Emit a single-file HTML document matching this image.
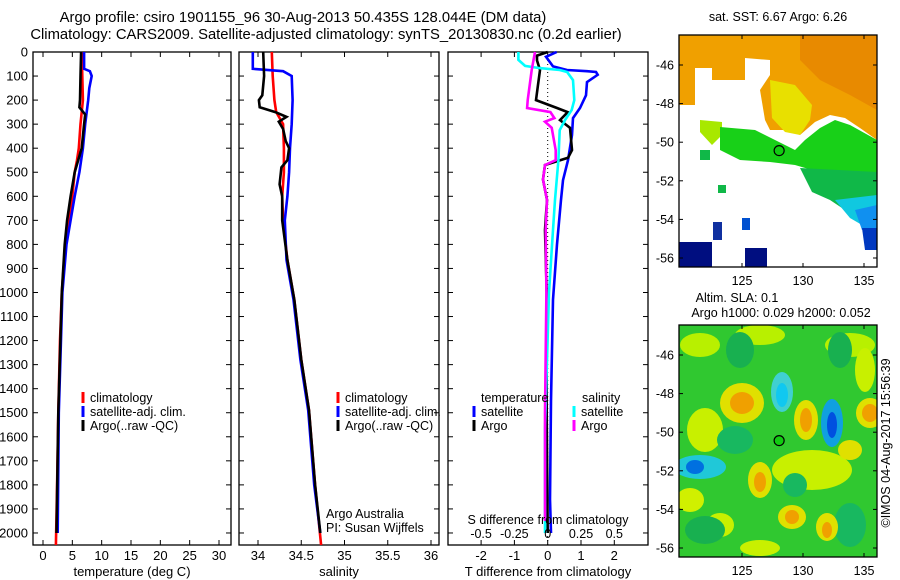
<!DOCTYPE html>
<html><head><meta charset="utf-8"><style>
html,body{margin:0;padding:0;background:#fff}
svg{display:block;font-family:"Liberation Sans",sans-serif}
text{fill:#000}
</style></head><body>
<svg id="fig" width="900" height="580" viewBox="0 0 900 580" xmlns="http://www.w3.org/2000/svg">
<text x="303" y="22" font-size="14.8" text-anchor="middle">Argo profile: csiro 1901155_96 30-Aug-2013 50.435S 128.044E (DM data)</text>
<text x="326" y="39" font-size="14.8" text-anchor="middle">Climatology: CARS2009. Satellite-adjusted climatology: synTS_20130830.nc (0.2d earlier)</text>
<g id="panels"></g>
<g id="maps"></g>
</svg>
<script>
// depth axis
const depthTicks = [0,100,200,300,400,500,600,700,800,900,1000,1100,1200,1300,1400,1500,1600,1700,1800,1900,2000];
// temperature panel
const tTicks = [0,5,10,15,20,25,30];
const tClimD = [0,100,200,250,300,400,450,500,600,700,800,1000,1200,1500,1800,2050];
const tClimV = [6.6,6.7,6.8,6.6,6.4,6.1,5.8,5.4,5.0,4.4,3.8,3.2,2.9,2.6,2.4,2.2];
const tSatD = [0,70,80,100,150,200,300,400,500,600,700,800,1000,1500,2000];
const tSatV = [7.0,7.0,8.0,8.3,7.9,7.7,7.2,6.8,6.2,5.4,4.7,4.0,3.3,2.7,2.5];
const tArgoD = [0,100,200,230,260,300,400,450,500,600,700,800,1000,1500,2000];
const tArgoV = [6.5,6.4,6.3,6.2,7.2,7.0,6.6,6.0,5.4,4.7,4.1,3.7,3.2,2.6,2.3];
// salinity panel
const sTicks = [34,34.5,35,35.5,36];
const sClimD = [0,100,200,250,300,400,500,600,700,865,1030,1280,1490,1800,2050];
const sClimV = [34.16,34.17,34.19,34.21,34.29,34.30,34.30,34.28,34.29,34.34,34.42,34.50,34.59,34.66,34.73];
const sSatD = [0,70,80,100,200,300,400,500,600,700,865,1030,1280,1490,1800,2000];
const sSatV = [33.94,33.94,34.29,34.39,34.40,34.39,34.37,34.36,34.34,34.31,34.33,34.41,34.49,34.58,34.65,34.72];
const sArgoD = [0,100,180,200,230,250,270,290,320,370,400,450,480,550,600,700,865,1030,1280,1490,1800,2000];
const sArgoV = [34.06,34.07,34.05,34.01,34.02,34.2,34.33,34.24,34.29,34.32,34.36,34.34,34.27,34.25,34.28,34.28,34.34,34.42,34.50,34.59,34.66,34.72];
// difference panel
const dTTicks = [-2,-1,0,1,2];
const dSTicks = [-0.5,-0.25,0,0.25,0.5];
const dSTickLabels = ["-0.5","-0.25","0","0.25","0.5"];
const dTsD = [0,20,60,75,80,83,95,125,180,233,275,345,450,533,615,800,1030,1450,1860,2000];
const dTsV = [0.27,-0.05,0.16,0.58,1.18,1.45,1.5,1.18,1.15,0.97,0.76,0.73,0.61,0.46,0.40,0.28,0.16,0.10,0.07,0.10];
const dTaD = [0,15,35,75,137,200,233,250,283,315,408,440,470,530,615,740,1000,1500,2000];
const dTaV = [0.0,-0.32,-0.32,-0.23,-0.29,-0.35,0.28,0.6,0.37,0.67,0.73,0.61,-0.08,-0.14,-0.02,-0.08,-0.03,-0.03,0.0];
const dSsD = [0,33,58,67,75,83,117,200,241,283,325,450,615,740,1000,1570,2000];
const dSsV = [-0.22,-0.22,-0.17,-0.06,0.09,0.146,0.19,0.2,0.18,0.13,0.09,0.08,0.055,0.04,0.01,-0.02,-0.02];
const dSaD = [0,75,200,233,250,275,290,315,408,450,470,530,615,740,1000,1500,1950];
const dSaV = [-0.095,-0.12,-0.15,-0.155,0.02,0.05,-0.02,0.03,0.06,0.06,-0.02,-0.035,-0.005,-0.015,-0.01,-0.02,-0.02];
// maps
const lonTicks = [125,130,135];
const latTicks = [-46,-48,-50,-52,-54,-56];
const argoLon = 128.044, argoLat = -50.435;

const NS = "http://www.w3.org/2000/svg";
function mk(tag, attrs, parent, txt){
  const e = document.createElementNS(NS, tag);
  for (const k in attrs) e.setAttribute(k, attrs[k]);
  if (txt !== undefined) e.textContent = txt;
  parent.appendChild(e);
  return e;
}
const P = document.getElementById('panels');
const TOP = 52, BOT = 545;
const yD = d => TOP + d * (BOT - TOP) / 2050;

function panel(name, x0, x1, xs, ticks, labels, xlabel, drawDepthLabels){
  const g = mk('g', {}, P);
  
  
  const fr = mk('rect', {x:x0, y:TOP, width:x1-x0, height:BOT-TOP, fill:'none', stroke:'#000', 'stroke-width':1.3}, g);
  
  
  depthTicks.forEach(d => {
    const y = yD(d);
    mk('line', {x1:x0, x2:x0+5, y1:y, y2:y, stroke:'#000'}, g);
    mk('line', {x1:x1-5, x2:x1, y1:y, y2:y, stroke:'#000'}, g);
    if (drawDepthLabels) {
      const t = mk('text', {x:x0-5, y:y+4.5, 'font-size':13, 'text-anchor':'end'}, g, String(d));
      
      
    }
  });
  ticks.forEach((v,i) => {
    const x = xs(v);
    mk('line', {x1:x, x2:x, y1:BOT, y2:BOT-5, stroke:'#000'}, g);
    mk('line', {x1:x, x2:x, y1:TOP, y2:TOP+5, stroke:'#000'}, g);
    if (labels) {
      const t = mk('text', {x:x, y:BOT+15, 'font-size':13, 'text-anchor':'middle'}, g, labels[i]);
      
      
    }
  });
  const xl = mk('text', {x:(x0+x1)/2, y:BOT+31, 'font-size':13, 'text-anchor':'middle'}, g, xlabel);
  
  
  return g;
}
function series(g, name, D, V, xs, color){
  const pts = D.map((d,i) => xs(V[i]).toFixed(1) + ',' + yD(d).toFixed(1)).join(' ');
  const pl = mk('polyline', {points:pts, fill:'none', stroke:color, 'stroke-width':2.6, 'stroke-linejoin':'miter'}, g);
  
  
}
function legend(g, x, y, color, label, name){
  const b = mk('rect', {x:x-1.5, y:y-10, width:3, height:11, fill:color}, g);
  
  
  if (label) {
    const t = mk('text', {x:x+7, y:y, 'font-size':12.5}, g, label);
    
    
  }
}

// Panel 1: temperature
const xT = v => 43 + v * (219 - 43) / 30;
const g1 = panel('temperature-panel', 33, 231, xT, tTicks, tTicks.map(String), 'temperature (deg C)', true);
series(g1, 'temp-climatology-line', tClimD, tClimV, xT, '#f00');
series(g1, 'temp-satellite-line', tSatD, tSatV, xT, '#00f');
series(g1, 'temp-argo-line', tArgoD, tArgoV, xT, '#000');
legend(g1, 83, 402, '#f00', 'climatology', 'legend-climatology');
legend(g1, 83, 416, '#00f', 'satellite-adj. clim.', 'legend-satellite');
legend(g1, 83, 430, '#000', 'Argo(..raw -QC)', 'legend-argo');

// Panel 2: salinity
const xS = v => 258 + (v - 34) * 86.5;
const g2 = panel('salinity-panel', 239, 439, xS, sTicks, sTicks.map(String), 'salinity', false);
series(g2, 'sal-climatology-line', sClimD, sClimV, xS, '#f00');
series(g2, 'sal-satellite-line', sSatD, sSatV, xS, '#00f');
series(g2, 'sal-argo-line', sArgoD, sArgoV, xS, '#000');
legend(g2, 338, 402, '#f00', 'climatology', 'legend2-climatology');
legend(g2, 338, 416, '#00f', 'satellite-adj. clim.', 'legend2-satellite');
legend(g2, 338, 430, '#000', 'Argo(..raw -QC)', 'legend2-argo');
const ar1 = mk('text', {x:326, y:518, 'font-size':12.5}, g2, 'Argo Australia');


const ar2 = mk('text', {x:326, y:532, 'font-size':12.5}, g2, 'PI: Susan Wijffels');



// Panel 3: differences
const xDT = v => 547.7 + v * 33.3;
const xDS = v => 547.7 + v * 133.2;
const g3 = panel('difference-panel', 448, 648, xDT, dTTicks, dTTicks.map(String), 'T difference from climatology', false);
const zl = mk('line', {x1:xDT(0), x2:xDT(0), y1:TOP, y2:BOT, stroke:'#000', 'stroke-dasharray':'1,3'}, g3);


series(g3, 'dT-satellite-line', dTsD, dTsV, xDT, '#00f');
series(g3, 'dT-argo-line', dTaD, dTaV, xDT, '#000');
series(g3, 'dS-satellite-line', dSsD, dSsV, xDS, '#0ff');
series(g3, 'dS-argo-line', dSaD, dSaV, xDS, '#f0f');
dSTicks.forEach((v,i) => {
  const t = mk('text', {x:xDS(v), y:538, 'font-size':12.5, 'text-anchor':'middle'}, g3, dSTickLabels[i]);
  
  
});
const st = mk('text', {x:548, y:524, 'font-size':12.5, 'text-anchor':'middle'}, g3, 'S difference from climatology');


const lt1 = mk('text', {x:481, y:402, 'font-size':12.5}, g3, 'temperature');


const lt2 = mk('text', {x:582, y:402, 'font-size':12.5}, g3, 'salinity');


legend(g3, 474, 416, '#00f', 'satellite', 'legend3-t-satellite');
legend(g3, 474, 430, '#000', 'Argo', 'legend3-t-argo');
legend(g3, 574, 416, '#0ff', 'satellite', 'legend3-s-satellite');
legend(g3, 574, 430, '#f0f', 'Argo', 'legend3-s-argo');

// Maps
const M = document.getElementById('maps');
const MX0 = 679, MX1 = 877;
const lonX = lon => 742 + (lon - 125) * 12.2;
function mapFrame(name, y0, title, drawFn){
  const g = mk('g', {}, M);
  
  
  const latY = lat => y0 + 30 + (-46 - lat) * 19.3;
  const cid = name + '-clip';
  const cp = mk('clipPath', {id:cid}, g);
  mk('rect', {x:MX0, y:y0, width:MX1-MX0, height:232}, cp);
  const inner = mk('g', {'clip-path':'url(#' + cid + ')'}, g);
  drawFn(inner, y0);
  const fr = mk('rect', {x:MX0, y:y0, width:MX1-MX0, height:232, fill:'none', stroke:'#000', 'stroke-width':1.3}, g);
  
  
  lonTicks.forEach(l => {
    const x = lonX(l);
    mk('line', {x1:x, x2:x, y1:y0, y2:y0+4, stroke:'#000'}, g);
    mk('line', {x1:x, x2:x, y1:y0+232, y2:y0+228, stroke:'#000'}, g);
    const t = mk('text', {x:x, y:y0+250, 'font-size':12.5, 'text-anchor':'middle'}, g, String(l));
    
    
  });
  latTicks.forEach(l => {
    const y = latY(l);
    mk('line', {x1:MX0, x2:MX0+4, y1:y, y2:y, stroke:'#000'}, g);
    mk('line', {x1:MX1, x2:MX1-4, y1:y, y2:y, stroke:'#000'}, g);
    const t = mk('text', {x:MX0-5, y:y+4.5, 'font-size':12.5, 'text-anchor':'end'}, g, String(l));
    
    
  });
  const c = mk('circle', {cx:lonX(argoLon), cy:latY(argoLat), r:5, fill:'#1c1', stroke:'#000', 'stroke-width':1.2}, g);
  
  
  return g;
}
function poly(g, pts, fill, name){
  const p = mk('polygon', {points:pts, fill:fill}, g);
  
  
}
const sstTitle = mk('text', {x:778, y:21, 'font-size':12.5, 'text-anchor':'middle'}, M, 'sat. SST: 6.67 Argo: 6.26');


mapFrame('sst-map', 35, '', (g) => {
  mk('rect', {x:679, y:35, width:198, height:232, fill:'#fff'}, g);
  poly(g, '679,35 877,35 877,140 860,128 845,118 830,115 815,122 800,135 790,130 679,130', '#f0a000', 'sst-warm-region');
  poly(g, '800,35 877,35 877,110 850,95 820,80 800,60', '#e88a00', 'sst-warmest-region');
  poly(g, '695,68 712,68 712,80 745,80 745,58 770,60 770,75 760,90 765,120 770,130 679,135 679,105 695,105', '#fff', 'sst-missing-region');
  poly(g, '770,80 795,85 812,105 810,120 800,135 785,132 772,118', '#e8e000', 'sst-yellow-region');
  poly(g, '700,120 722,122 722,135 712,145 700,132', '#a8e800', 'sst-lime-region');
  poly(g, '720,127 755,130 775,140 795,150 805,140 820,128 835,120 850,125 877,140 877,180 850,180 830,178 812,170 795,165 770,162 740,160 720,150', '#18d018', 'sst-green-band');
  poly(g, '800,168 877,172 877,205 845,210 830,200 812,192', '#10b848', 'sst-teal-band');
  poly(g, '835,200 877,195 877,225 862,225 850,218', '#10c8e0', 'sst-cyan-region');
  poly(g, '855,210 877,205 877,228 862,230', '#1090f0', 'sst-lightblue-region');
  poly(g, '862,228 877,228 877,250 865,250', '#0038c0', 'sst-blue-region');
  poly(g, '679,242 712,242 712,267 679,267', '#000e80', 'sst-navy-block-1');
  poly(g, '745,248 767,248 767,267 745,267', '#000e80', 'sst-navy-block-2');
  poly(g, '713,222 722,222 722,240 713,240', '#1030a0', 'sst-navy-block-3');
  poly(g, '742,218 750,218 750,230 742,230', '#0050d0', 'sst-blue-block');
  poly(g, '718,185 726,185 726,193 718,193', '#10b848', 'sst-teal-block');
  poly(g, '700,150 710,150 710,160 700,160', '#10b848', 'sst-teal-block-2');
});
const sla1 = mk('text', {x:737, y:302, 'font-size':12.5, 'text-anchor':'middle'}, M, 'Altim. SLA: 0.1');


const sla2 = mk('text', {x:781, y:317, 'font-size':12.5, 'text-anchor':'middle'}, M, 'Argo h1000: 0.029 h2000: 0.052');


mapFrame('sla-map', 325, '', (g) => {
  mk('rect', {x:679, y:325, width:198, height:232, fill:'#30c830'}, g);
  const blobs = [
    [700,345,20,12,'#b8f000'],[760,335,25,10,'#b8f000'],[850,345,25,12,'#b8f000'],
    [705,430,18,22,'#c8f000'],[690,500,14,12,'#d0f000'],[812,470,40,20,'#c8f000'],
    [720,525,14,12,'#c8f000'],[760,548,20,8,'#c8f000'],[865,370,10,22,'#c8f000'],
    [740,350,14,18,'#18b050'],[840,350,12,18,'#18b050'],[735,440,18,14,'#18b860'],
    [795,485,12,12,'#18b860'],[850,525,16,22,'#18b860'],[705,530,20,14,'#18b050'],
    [742,403,22,20,'#e0e000'],[742,403,12,11,'#f0a000'],
    [782,392,11,20,'#40d0d0'],[782,395,6,12,'#10c8f0'],
    [806,420,12,20,'#e0e000'],[806,420,6,12,'#f0a000'],
    [832,423,11,24,'#10a0e0'],[832,425,5,13,'#0050e0'],
    [870,413,14,15,'#e0e000'],[870,413,8,9,'#f0a000'],
    [700,467,26,12,'#20c8d8'],[695,467,9,7,'#0070e0'],
    [760,480,12,18,'#e0e000'],[760,482,6,10,'#f0a000'],
    [792,517,14,12,'#e0e000'],[792,517,7,7,'#f0a000'],
    [827,527,11,14,'#e0e000'],[827,530,5,8,'#f0a000'],
    [850,450,12,10,'#e0e000']
  ];
  blobs.forEach(b => {
    const e = mk('ellipse', {cx:b[0], cy:b[1], rx:b[2], ry:b[3], fill:b[4]}, g);
    
    
  });
});
const cr = mk('text', {x:0, y:0, 'font-size':12.5, 'text-anchor':'middle', transform:'translate(890,443) rotate(-90)'}, M, '©IMOS 04-Aug-2017 15:56:39');


</script>
</body></html>
